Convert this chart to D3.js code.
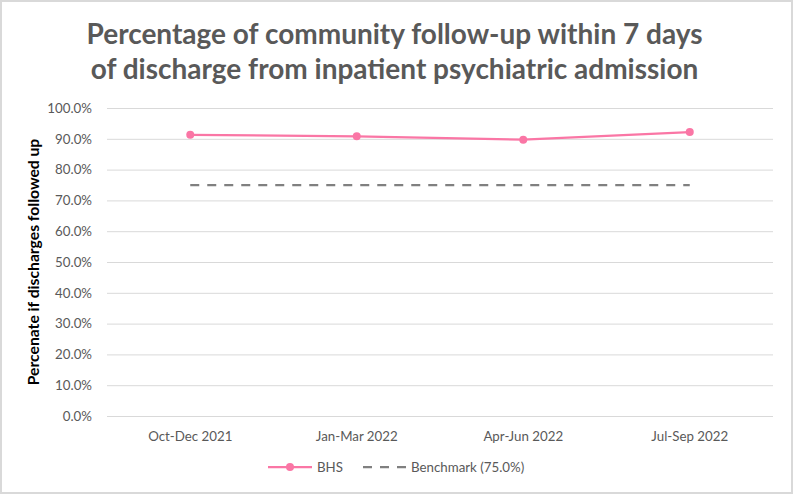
<!DOCTYPE html>
<html><head><meta charset="utf-8">
<script src="https://cdn.jsdelivr.net/npm/d3@7"></script>
<style>
html,body{margin:0;padding:0;background:#fff;}
svg{display:block;}
text{font-family:Lato,"Open Sans",sans-serif;}
</style></head>
<body><svg id="c" width="793" height="494"></svg>
<script>
const categories = ["Oct-Dec 2021","Jan-Mar 2022","Apr-Jun 2022","Jul-Sep 2022"];
const bhs = [91.3, 90.8, 89.7, 92.2];
const benchmark = [75.0, 75.0, 75.0, 75.0];
const yTicks = [0,10,20,30,40,50,60,70,80,90,100];
const titleLines = ["Percentage of community follow-up within 7 days","of discharge from inpatient psychiatric admission"];
const yTitle = "Percenate if discharges followed up";
const legendLabels = ["BHS","Benchmark (75.0%)"];

const svg = d3.select("#c");
const W = 793, H = 494;
const m = {left:107, right:20, top:108, bottom:78};
const x = d3.scaleBand().domain(categories).range([m.left, W-m.right]).padding(0);
const y = d3.scaleLinear().domain([0,100]).range([H-m.bottom, m.top]);
const cx = d => x(d) + x.bandwidth()/2;

svg.append("rect").attr("x",1).attr("y",1).attr("width",W-2).attr("height",H-2)
  .attr("fill","#fff").attr("stroke","#d9d9d9").attr("stroke-width",2);

// title
svg.append("g").selectAll("text").data(titleLines).join("text")
  .attr("x", W/2 - 2).attr("y",(d,i)=>44+i*35).attr("text-anchor","middle")
  .attr("font-size",28).attr("font-weight","bold").attr("fill","#595959").text(d=>d);

// grid + y axis
const yAxis = d3.axisLeft(y).tickValues(yTicks).tickSize(-(W-m.right-m.left)).tickPadding(15)
  .tickFormat(d=>d.toFixed(1)+"%");
const gy = svg.append("g").attr("transform",`translate(${m.left},0)`).call(yAxis);
gy.select(".domain").remove();
gy.selectAll(".tick line").attr("stroke","#d9d9d9").attr("stroke-width",1);
gy.selectAll(".tick text").attr("fill","#595959").attr("font-size",13.3).attr("font-family","Lato");

// x axis labels
const xAxis = d3.axisBottom(x).tickSize(0).tickPadding(16);
const gx = svg.append("g").attr("transform",`translate(0,${H-m.bottom})`).call(xAxis);
gx.select(".domain").remove();
gx.selectAll(".tick text").attr("fill","#595959").attr("font-size",13.3).attr("font-family","Lato");

// y title
svg.append("text").attr("transform",`translate(39,${(m.top+H-m.bottom)/2}) rotate(-90)`)
  .attr("text-anchor","middle").attr("font-size",15.7).attr("font-weight","bold").attr("fill","#000").text(yTitle);

// benchmark
const line = d3.line().x((d,i)=>cx(categories[i])).y(d=>y(d));
svg.append("path").datum(benchmark).attr("d",line).attr("fill","none")
  .attr("stroke","#808080").attr("stroke-width",2.25).attr("stroke-dasharray","9,8");

// BHS
const pink = "#fa76a5";
svg.append("path").datum(bhs).attr("d",line).attr("fill","none")
  .attr("stroke",pink).attr("stroke-width",2.25);
svg.append("g").selectAll("circle").data(bhs).join("circle")
  .attr("cx",(d,i)=>cx(categories[i])).attr("cy",d=>y(d)).attr("r",4).attr("fill",pink);

// legend
const lg = svg.append("g").attr("transform","translate(0,467)");
lg.append("line").attr("x1",268).attr("x2",312).attr("stroke",pink).attr("stroke-width",2.25);
lg.append("circle").attr("cx",290).attr("r",4).attr("fill",pink);
lg.append("text").attr("x",317).attr("y",5).attr("font-size",13.3).attr("fill","#595959").text(legendLabels[0]);
lg.append("line").attr("x1",363).attr("x2",406).attr("stroke","#808080").attr("stroke-width",2.25).attr("stroke-dasharray","9,8");
lg.append("text").attr("x",411).attr("y",5).attr("font-size",13.3).attr("fill","#595959").text(legendLabels[1]);
</script></body></html>
